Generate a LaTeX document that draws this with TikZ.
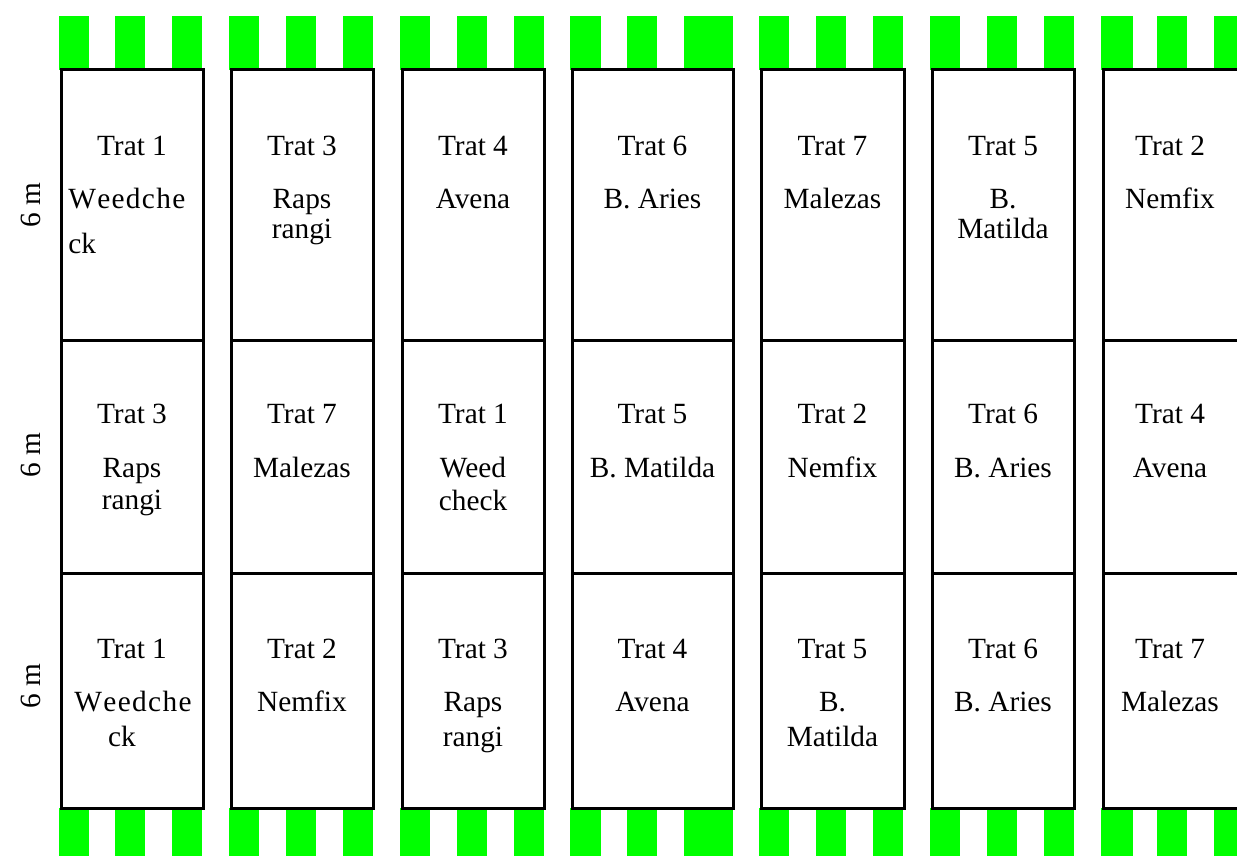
\documentclass[tikz,border=0pt]{standalone}
\usepackage{fontspec}
\setmainfont{Liberation Serif}
\definecolor{bargreen}{RGB}{0,255,0}
\newcommand{\wdchk}{W\kern1pt e\kern1pt e\kern1pt d\kern1pt c\kern1pt h\kern1pt e}
\begin{document}
\begin{tikzpicture}[x=0.75pt,y=-0.75pt,
  cellbox/.style={draw=black,line width=2.25pt},
  lbl/.style={font=\fontsize{22}{26}\selectfont,anchor=base,inner sep=0pt},
  lblw/.style={lbl,anchor=base west},
  side/.style={font=\fontsize{22}{26}\selectfont,anchor=base,inner sep=0pt,rotate=90},
  barfill/.style={fill=bargreen,draw=none}]
\useasboundingbox (0,0) rectangle (1237,856);
\clip (0,0) rectangle (1237,856);
% green stripes
\foreach \a/\b in {59/89,115/145,172/202,229/259,286/316,343/373,400/430,457/487,514/544,570/601,627/657,684/733,759/789,816/846,873/903,930/960,987/1017,1044/1074,1101/1133,1157/1187,1214/1244}{
  \fill[barfill] (\a,16) rectangle (\b,70);
  \fill[barfill] (\a,808) rectangle (\b,856);
}
% plots
\foreach \l/\r in {61/203,231/373,402/544,572/733,761/904,932/1074,1103/1246}{
  \draw[cellbox] (\l,70) rectangle (\r,340);
  \draw[cellbox] (\l,340) rectangle (\r,573);
  \draw[cellbox] (\l,573) rectangle (\r,808);
}
% side labels
\node[side] (s1) at (40,205) {6 m};
\node[side] (s2) at (40,455) {6 m};
\node[side] (s3) at (40,686) {6 m};
% row 1
\node[lbl] (a1t) at (132,155) {Trat 1};
\node[lblw] (a1a) at (68,208) {\wdchk};
\node[lblw] (a1b) at (68,253) {ck};
\node[lbl] (a2t) at (302,155) {Trat 3};
\node[lbl] (a2a) at (302,208) {Raps};
\node[lbl] (a2b) at (302,238) {rangi};
\node[lbl] (a3t) at (473,155) {Trat 4};
\node[lbl] (a3a) at (473,208) {Avena};
\node[lbl] (a4t) at (652.5,155) {Trat 6};
\node[lbl] (a4a) at (652.5,208) {B. Aries};
\node[lbl] (a5t) at (832.5,155) {Trat 7};
\node[lbl] (a5a) at (832.5,208) {Malezas};
\node[lbl] (a6t) at (1003,155) {Trat 5};
\node[lbl] (a6a) at (1003,208) {B.};
\node[lbl] (a6b) at (1003,238) {Matilda};
\node[lbl] (a7t) at (1170,155) {Trat 2};
\node[lbl] (a7a) at (1170,208) {Nemfix};
% row 2
\node[lbl] (b1t) at (132,423) {Trat 3};
\node[lbl] (b1a) at (132,477) {Raps};
\node[lbl] (b1b) at (132,509) {rangi};
\node[lbl] (b2t) at (302,423) {Trat 7};
\node[lbl] (b2a) at (302,477) {Malezas};
\node[lbl] (b3t) at (473,423) {Trat 1};
\node[lbl] (b3a) at (473,477) {Weed};
\node[lbl] (b3b) at (473,510) {check};
\node[lbl] (b4t) at (652.5,423) {Trat 5};
\node[lbl] (b4a) at (652.5,477) {B. Matilda};
\node[lbl] (b5t) at (832.5,423) {Trat 2};
\node[lbl] (b5a) at (832.5,477) {Nemfix};
\node[lbl] (b6t) at (1003,423) {Trat 6};
\node[lbl] (b6a) at (1003,477) {B. Aries};
\node[lbl] (b7t) at (1170,423) {Trat 4};
\node[lbl] (b7a) at (1170,477) {Avena};
% row 3
\node[lbl] (c1t) at (132,658) {Trat 1};
\node[lbl] (c1a) at (133,711) {\wdchk};
\node[lbl] (c1b) at (122,746) {ck};
\node[lbl] (c2t) at (302,658) {Trat 2};
\node[lbl] (c2a) at (302,711) {Nemfix};
\node[lbl] (c3t) at (473,658) {Trat 3};
\node[lbl] (c3a) at (473,711) {Raps};
\node[lbl] (c3b) at (473,746) {rangi};
\node[lbl] (c4t) at (652.5,658) {Trat 4};
\node[lbl] (c4a) at (652.5,711) {Avena};
\node[lbl] (c5t) at (832.5,658) {Trat 5};
\node[lbl] (c5a) at (832.5,711) {B.};
\node[lbl] (c5b) at (832.5,746) {Matilda};
\node[lbl] (c6t) at (1003,658) {Trat 6};
\node[lbl] (c6a) at (1003,711) {B. Aries};
\node[lbl] (c7t) at (1170,658) {Trat 7};
\node[lbl] (c7a) at (1170,711) {Malezas};
\end{tikzpicture}
\end{document}
